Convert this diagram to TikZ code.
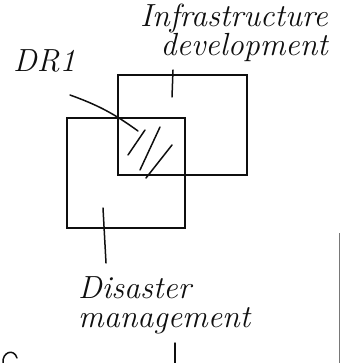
\documentclass[tikz,border=0pt]{standalone}
\usepackage{tikz}
\usetikzlibrary{positioning}
\definecolor{inkblack}{RGB}{15,15,15}
\definecolor{edgegray}{RGB}{120,120,120}

\begin{document}
\begin{tikzpicture}[
      x=1pt,y=-1pt,
      area/.style={draw=inkblack,line width=1.6pt,minimum width=#1,inner sep=0pt},
      lbl/.style={font=\fontsize{32}{29}\selectfont\itshape,text=inkblack,inner sep=0pt},
      lead/.style={draw=inkblack,line width=1.5pt,line cap=round},
      hatch/.style={draw=inkblack,line width=1.5pt,line cap=round}
    ]
      \useasboundingbox (0,0) rectangle (341,363);
      \node[area=129pt,minimum height=100pt] (infra) at (182.5,125) {};
      \node[area=118pt,minimum height=110pt] (disaster) at (126,173) {};

      \node[lbl,align=right,anchor=north east] (infralbl) at (328,4) {Infrastructure\\development};
      \node[lbl,anchor=south west] (drlbl) at (13,72) {DR1};
      \node[lbl,align=left,anchor=north west] (dislbl) at (78,276) {Disaster\\management};

      % overlap hatching
      \coordinate (h1a) at (145,130); \coordinate (h1b) at (128,155);
      \coordinate (h2a) at (160,127); \coordinate (h2b) at (140,170);
      \coordinate (h3a) at (172,145); \coordinate (h3b) at (146,178);
      \draw[hatch] (h1a) -- (h1b);
      \draw[hatch] (h2a) -- (h2b);
      \draw[hatch] (h3a) -- (h3b);

      % leaders
      \coordinate (infrain) at (172,97);
      \coordinate (infratop) at (173,70);
      \coordinate (drstart) at (70,95);
      \coordinate (drend) at (138,131);
      \coordinate (disin) at (103,208);
      \coordinate (disend) at (106,263);
      \draw[lead] (infratop) -- (infrain);
      \draw[lead] (drstart) to[bend left=8] (drend);
      \draw[lead] (disin) -- (disend);

      % page edges
      \coordinate (edgetop) at (339,233);
      \coordinate (edgebot) at (339,363);
      \draw[edgegray,line width=0.8pt] (edgetop) -- (edgebot);
      \coordinate (stubtop) at (175,343);
      \coordinate (stubbot) at (175,363);
      \draw[lead] (stubtop) -- (stubbot);
      \coordinate (curlst) at (3,363);
      \draw[lead] (curlst) .. controls (2,352) and (14,348) .. (17,358);
    \end{tikzpicture}
\end{document}
